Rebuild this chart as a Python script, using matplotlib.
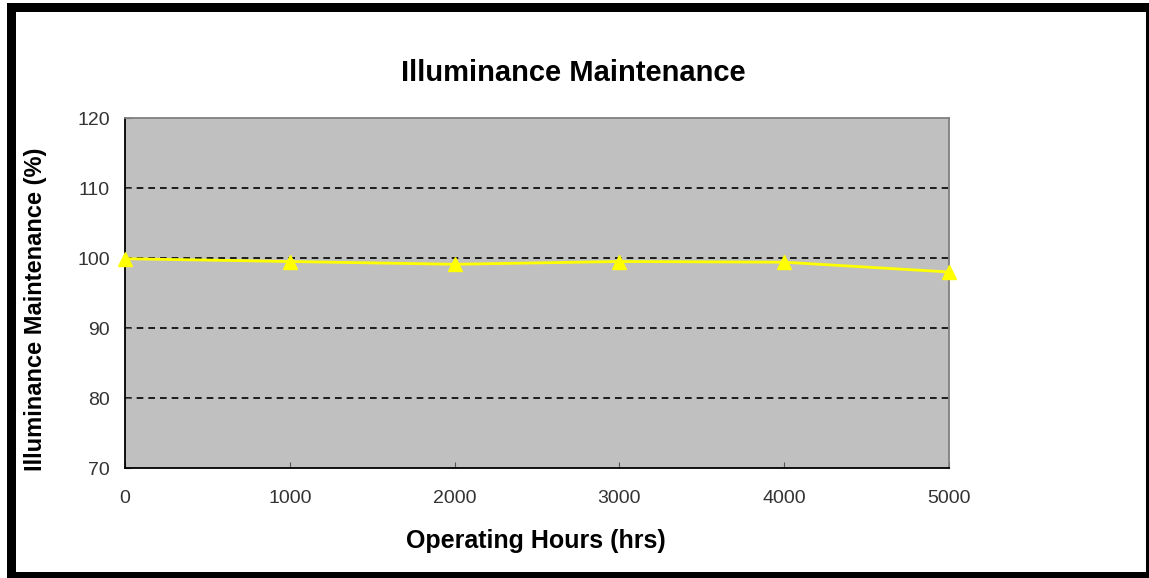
import matplotlib
matplotlib.use("Agg")
import matplotlib.pyplot as plt
from matplotlib.patches import Rectangle

hours = [0, 1000, 2000, 3000, 4000, 5000]
maintenance = [99.9, 99.5, 99.1, 99.5, 99.4, 98.0]
y_ticks = [70, 80, 90, 100, 110, 120]

plt.rcParams["font.family"] = ["Liberation Sans", "DejaVu Sans"]

W, H = 1149, 578
fig = plt.figure(figsize=(W / 100, H / 100), dpi=100)
ax = fig.add_axes([125 / W, 1 - 468 / H, (949 - 125) / W, (468 - 118) / H])

ax.set_facecolor("#c0c0c0")
ax.set_xlim(0, 5000)
ax.set_ylim(70, 120)
ax.set_yticks(y_ticks)
ax.set_xticks(hours)

for v in [80, 90, 100, 110]:
    ax.axhline(v, color="black", linestyle=(0, (4, 3)), linewidth=1.2, zorder=1)

ax.plot(hours, maintenance, color="#ffff00", linewidth=2, marker="^",
        markersize=10, markeredgecolor="#ffff00", zorder=3, clip_on=False)

for s in ["left", "bottom"]:
    ax.spines[s].set_color("black")
    ax.spines[s].set_linewidth(1.3)
for s in ["top", "right"]:
    ax.spines[s].set_color("#808080")
    ax.spines[s].set_linewidth(1.3)

ax.tick_params(axis="both", direction="in", length=4, color="#555555",
               labelsize=14, labelcolor="#333333")
ax.tick_params(axis="x", pad=16)
ax.tick_params(axis="y", pad=11)

fig.text(573 / W, 1 - 73 / H, "Illuminance Maintenance", fontsize=21,
         fontweight="bold", ha="center", va="center")
fig.text(536 / W, 1 - 541 / H, "Operating Hours (hrs)", fontsize=18,
         fontweight="bold", ha="center", va="center")
fig.text(36 / W, 1 - 309 / H, "Illuminance Maintenance (%)", fontsize=17,
         fontweight="bold", ha="center", va="center", rotation=90)

# outer frame
def frame(x0, y0, x1, y1):
    fig.patches.append(Rectangle((x0 / W, 1 - y1 / H), (x1 - x0) / W, (y1 - y0) / H,
                                 transform=fig.transFigure, facecolor="black",
                                 edgecolor="none", zorder=10))

frame(7, 3, 16, 578)
frame(7, 3, 1149, 12)
frame(1146, 3, 1149, 578)
frame(7, 572, 1149, 578)

fig.savefig("out.png", dpi=100)
